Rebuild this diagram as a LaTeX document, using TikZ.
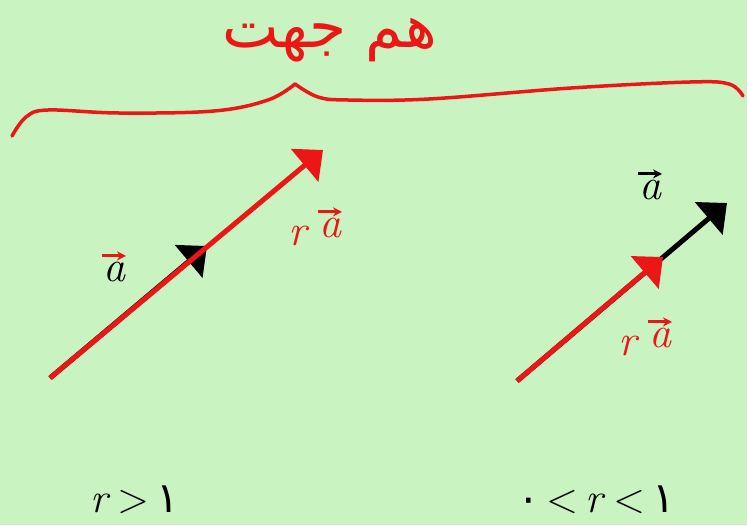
\documentclass[tikz,border=0pt]{standalone}
\usepackage{fontspec}
\TeXXeTstate=1
\newfontfamily\arabicfont[Script=Arabic]{DejaVu Sans}
\newfontfamily\dejavu{DejaVu Sans}
\usetikzlibrary{arrows.meta}
\definecolor{bg}{RGB}{201,243,193}
\definecolor{pen}{RGB}{236,22,22}
\begin{document}
\begin{tikzpicture}[x=1pt,y=-1pt,
  vecline/.style={line width=5pt,-{Triangle[length=24pt,width=42pt]}},
  lbl/.style={inner sep=0pt,font=\fontsize{44}{46}\selectfont\itshape},
  cond/.style={inner sep=0pt,font=\fontsize{42}{44}\selectfont},
  accent/.style={line width=2.8pt,-{Stealth[length=9pt,width=9pt]}}]
\fill[bg] (0,0) rectangle (747,525);
\useasboundingbox (0,0) rectangle (747,525);
% title
\node[inner sep=0pt,text=pen,font=\arabicfont\fontsize{60}{64}\selectfont] (title) at (330,40) {\beginR هم جهت\endR};
% brace
\draw[pen,line width=3.5pt,line cap=round,line join=round]
  plot[smooth,tension=0.6] coordinates {(12,136) (26,117) (48,110) (119,113) (214,111) (268,100) (295,84)};
\draw[pen,line width=3.5pt,line cap=round,line join=round]
  plot[smooth,tension=0.6] coordinates {(295,84) (318,97) (348,100) (429,99) (571,88) (690,82) (729,84) (743,96)};
% left pair
\coordinate (L0) at (50,378);
\coordinate (La) at (207,246);
\coordinate (Lr) at (323,150);
\draw[vecline,black] (L0) -- (La);
\draw[vecline,pen] (L0) -- (Lr);
% right pair
\coordinate (R0) at (517,381);
\coordinate (Ra) at (727,203);
\coordinate (Rr) at (663,257);
\draw[vecline,black] (R0) -- (Ra);
\draw[vecline,pen] (R0) -- (Rr);
% labels
\node[lbl] (la) at (114,272) {a};
\draw[accent,pen] ([xshift=-12pt,yshift=6pt]la.north) -- ([xshift=12pt,yshift=6pt]la.north);
\node[lbl,text=pen] (lr1) at (298,236) {r};
\node[lbl,text=pen] (la1) at (330,228) {a};
\draw[accent,pen] ([xshift=-12pt,yshift=6pt]la1.north) -- ([xshift=12pt,yshift=6pt]la1.north);
\node[lbl] (ra) at (650,190) {a};
\draw[accent,black] ([xshift=-12pt,yshift=6pt]ra.north) -- ([xshift=12pt,yshift=6pt]ra.north);
\node[lbl,text=pen] (rr2) at (628,346) {r};
\node[lbl,text=pen] (ra2) at (660,338) {a};
\draw[accent,pen] ([xshift=-12pt,yshift=6pt]ra2.north) -- ([xshift=12pt,yshift=6pt]ra2.north);
% conditions
\node[cond] (c1) at (135,500) {\textit{r}\,>\,{\dejavu ۱}};
\node[cond] (c2) at (596,500) {{\dejavu ۰}\,<\,\textit{r}\,<\,{\dejavu ۱}};
\end{tikzpicture}
\end{document}
